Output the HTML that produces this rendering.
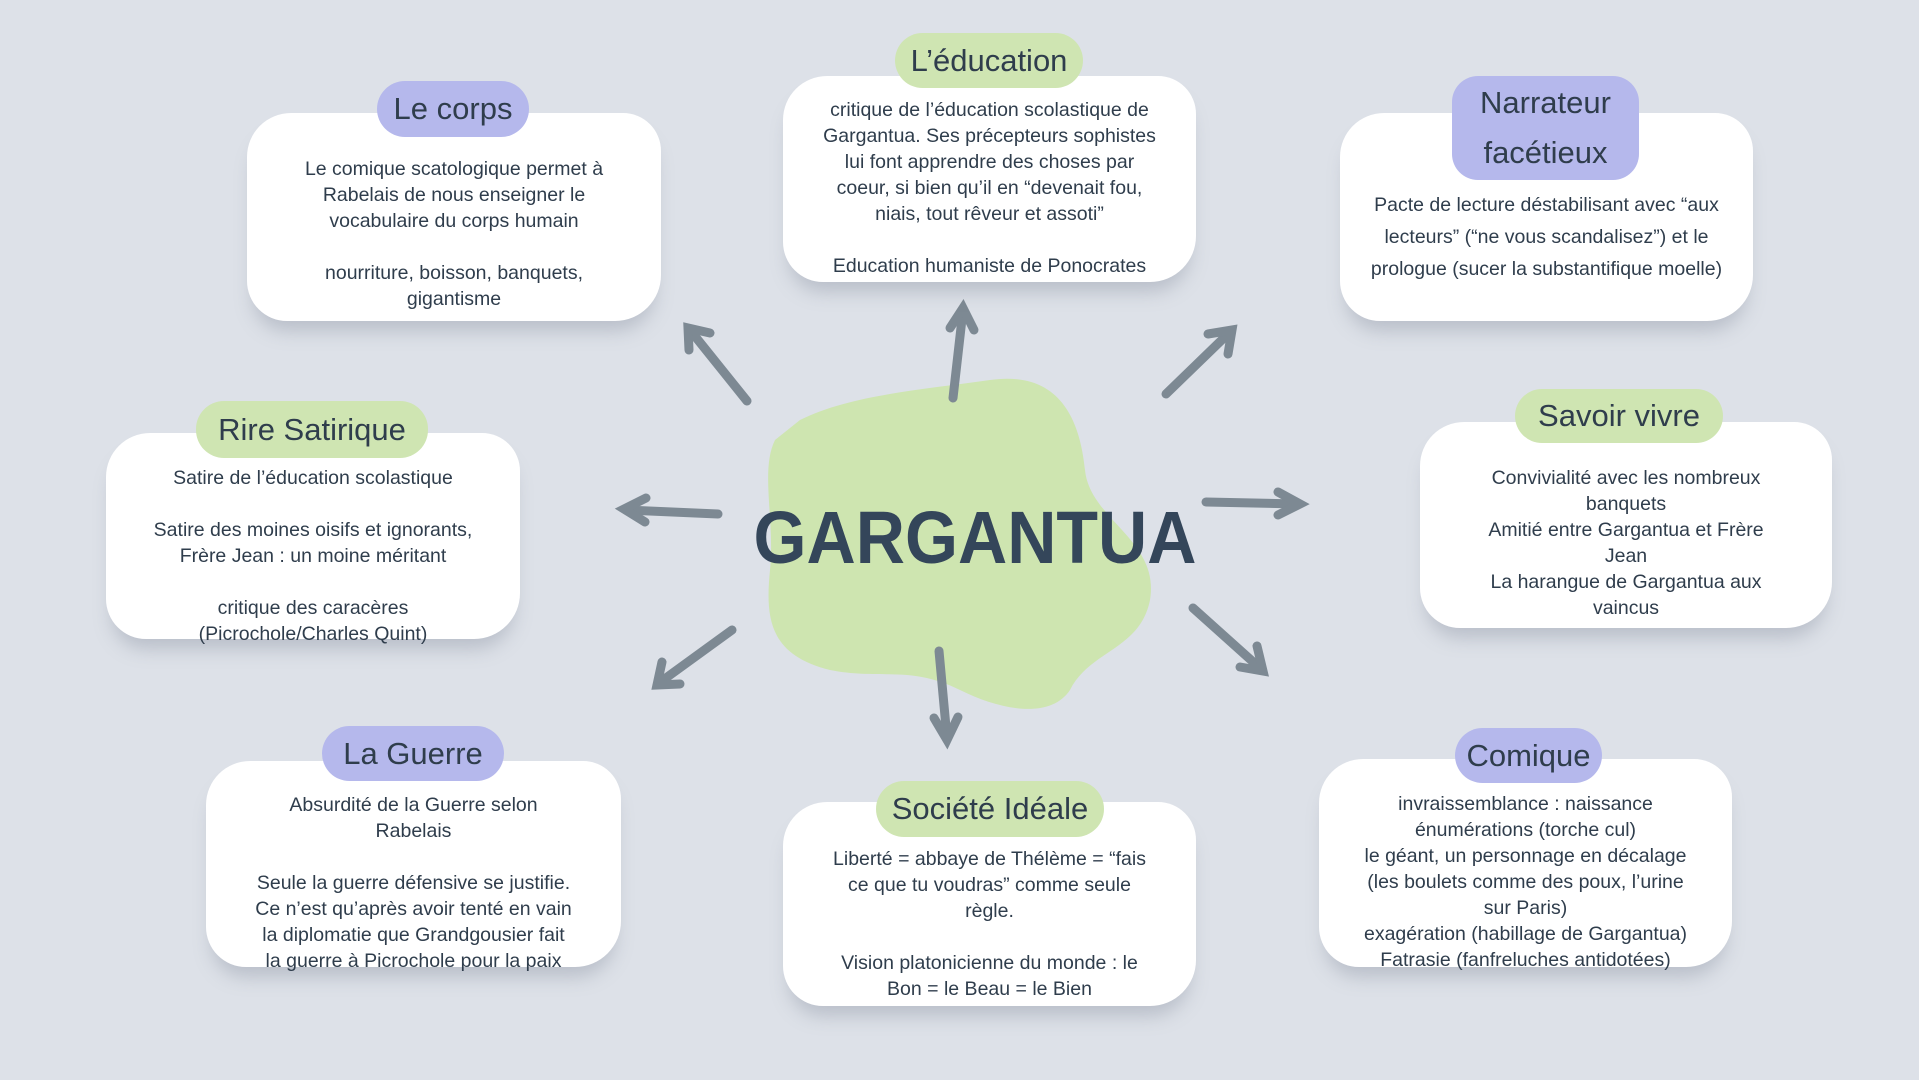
<!DOCTYPE html>
<html><head><meta charset="utf-8">
<style>
html,body{margin:0;padding:0}
body{width:1919px;height:1080px;background:#dde1e8;position:relative;overflow:hidden;font-family:"Liberation Sans",sans-serif;color:#2f3d4c}
.box{position:absolute;background:#fff;border-radius:44px 38px 46px 40px;box-shadow:0 16px 18px -6px rgba(120,130,145,0.35);text-align:center;font-size:19.5px;line-height:26px;white-space:nowrap;box-sizing:border-box}
.pill{position:absolute;border-radius:28px;text-align:center;font-size:31px;color:#2f3d4c;display:flex;align-items:center;justify-content:center;line-height:38px;z-index:2}
.p{background:#b5b8ec}.g{background:#cfe5b2}
</style></head><body>
<svg width="1919" height="1080" style="position:absolute;left:0;top:0">
<path d="M800 420 C850 395 920 390 990 380 C1060 370 1080 420 1085 470 C1090 520 1160 540 1150 600 C1140 650 1090 650 1070 690 C1050 720 1000 710 960 690 C910 665 880 680 830 670 C770 655 765 620 770 570 C775 520 760 470 775 440 Z" fill="#cee5b0"/>
<g stroke="#7d8993" stroke-width="9" stroke-linecap="round" fill="none">
<line x1="747" y1="401" x2="690" y2="330"/><polyline points="689,350 688,328 710,333"/>
<line x1="953" y1="398" x2="963" y2="310"/><polyline points="950,328 963,308 974,330"/>
<line x1="1166" y1="394" x2="1230" y2="332"/><polyline points="1208,334 1232,330 1228,354"/>
<line x1="718" y1="514" x2="626" y2="510"/><polyline points="646,498 624,509 645,522"/>
<line x1="1206" y1="502" x2="1298" y2="504"/><polyline points="1278,492 1300,504 1278,515"/>
<line x1="732" y1="630" x2="659" y2="683"/><polyline points="662,662 657,685 680,684"/>
<line x1="939" y1="651" x2="947" y2="738"/><polyline points="934,718 947,740 958,717"/>
<line x1="1193" y1="608" x2="1261" y2="669"/><polyline points="1257,646 1263,671 1240,667"/>
</g>
<text x="975" y="563" text-anchor="middle" font-family="Liberation Sans" font-weight="bold" font-size="74" fill="#34465a" textLength="443" lengthAdjust="spacingAndGlyphs">GARGANTUA</text>
</svg>

<div class="box" style="left:247px;top:113px;width:414px;height:208px;padding-top:43px">Le comique scatologique permet à<br>Rabelais de nous enseigner le<br>vocabulaire du corps humain<br><br>nourriture, boisson, banquets,<br>gigantisme</div>
<div class="pill p" style="left:377px;top:81px;width:152px;height:56px">Le corps</div>

<div class="box" style="left:783px;top:76px;width:413px;height:206px;padding-top:21px">critique de l’éducation scolastique de<br>Gargantua. Ses précepteurs sophistes<br>lui font apprendre des choses par<br>coeur, si bien qu’il en “devenait fou,<br>niais, tout rêveur et assoti”<br><br>Education humaniste de Ponocrates</div>
<div class="pill g" style="left:895px;top:33px;width:188px;height:55px">L’éducation</div>

<div class="box" style="left:1340px;top:113px;width:413px;height:208px;padding-top:76px;line-height:32px">Pacte de lecture déstabilisant avec “aux<br>lecteurs” (“ne vous scandalisez”) et le<br>prologue (sucer la substantifique moelle)</div>
<div class="pill p" style="left:1452px;top:76px;width:187px;height:104px;border-radius:26px;line-height:50px">Narrateur<br>facétieux</div>

<div class="box" style="left:106px;top:433px;width:414px;height:206px;padding-top:32px">Satire de l’éducation scolastique<br><br>Satire des moines oisifs et ignorants,<br>Frère Jean : un moine méritant<br><br>critique des caracères<br>(Picrochole/Charles Quint)</div>
<div class="pill g" style="left:196px;top:401px;width:232px;height:57px">Rire Satirique</div>

<div class="box" style="left:1420px;top:422px;width:412px;height:206px;padding-top:43px">Convivialité avec les nombreux<br>banquets<br>Amitié entre Gargantua et Frère<br>Jean<br>La harangue de Gargantua aux<br>vaincus</div>
<div class="pill g" style="left:1515px;top:389px;width:208px;height:54px">Savoir vivre</div>

<div class="box" style="left:206px;top:761px;width:415px;height:206px;padding-top:31px">Absurdité de la Guerre selon<br>Rabelais<br><br>Seule la guerre défensive se justifie.<br>Ce n’est qu’après avoir tenté en vain<br>la diplomatie que Grandgousier fait<br>la guerre à Picrochole pour la paix</div>
<div class="pill p" style="left:322px;top:726px;width:182px;height:55px">La Guerre</div>

<div class="box" style="left:783px;top:802px;width:413px;height:204px;padding-top:44px">Liberté = abbaye de Thélème = “fais<br>ce que tu voudras” comme seule<br>règle.<br><br>Vision platonicienne du monde : le<br>Bon = le Beau = le Bien</div>
<div class="pill g" style="left:876px;top:781px;width:228px;height:56px">Société Idéale</div>

<div class="box" style="left:1319px;top:759px;width:413px;height:208px;padding-top:32px">invraissemblance : naissance<br>énumérations (torche cul)<br>le géant, un personnage en décalage<br>(les boulets comme des poux, l’urine<br>sur Paris)<br>exagération (habillage de Gargantua)<br>Fatrasie (fanfreluches antidotées)</div>
<div class="pill p" style="left:1455px;top:728px;width:147px;height:55px">Comique</div>
</body></html>
